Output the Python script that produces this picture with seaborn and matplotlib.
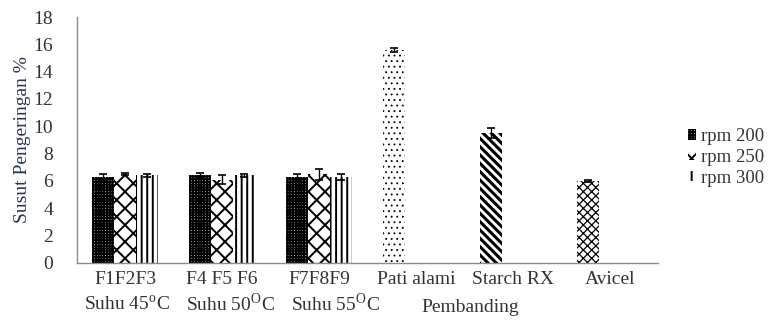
import pandas as pd
import numpy as np
import matplotlib
matplotlib.use("Agg")
import matplotlib.pyplot as plt
from matplotlib.patches import Patch
from matplotlib.transforms import blended_transform_factory
import seaborn as sns

# data
kategori = ["F1F2F3", "F4 F5 F6", "F7F8F9", "Pati alami", "Starch RX", "Avicel"]
grup = ["Suhu 45$^{\\mathrm{o}}$C", "Suhu 50$^{\\mathrm{O}}$C", "Suhu 55$^{\\mathrm{O}}$C", "Pembanding"]
rpm_levels = ["rpm 200", "rpm 250", "rpm 300"]

rpm200 = [6.3, 6.4, 6.3, 15.6, 9.5, 6.0]
rpm250 = [6.5, 6.1, 6.5]
rpm300 = [6.4, 6.4, 6.3]
err200 = [0.2, 0.2, 0.2, 0.15, 0.35, 0.1]
err250 = [0.1, 0.3, 0.4]
err300 = [0.1, 0.1, 0.2]

rows = []
for vals, errs, lvl in [(rpm200, err200, "rpm 200"), (rpm250, err250, "rpm 250"), (rpm300, err300, "rpm 300")]:
    for k, v, e in zip(kategori, vals, errs):
        rows.append({"kategori": k, "rpm": lvl, "susut": v, "err": e})
df = pd.DataFrame(rows)

sns.set_theme(style="white")
plt.rcParams["font.family"] = ["Liberation Serif", "DejaVu Serif"]
plt.rcParams["mathtext.fontset"] = "custom"
plt.rcParams["mathtext.rm"] = "Liberation Serif"
plt.rcParams["hatch.color"] = "black"
plt.rcParams["hatch.linewidth"] = 1.4

hatch_rpm = {"rpm 200": "++++++", "rpm 250": "xx", "rpm 300": "|||"}
hatch_cat = {"Pati alami": "...", "Starch RX": "\\\\\\\\", "Avicel": "xxxx"}
hatch_lw = {"Pati alami": 0.6, "Starch RX": 2.2, "Avicel": 0.9}

fig = plt.figure(figsize=(7.69, 3.21), dpi=100)
ax = fig.add_axes([0.100, 0.181, 0.756, 0.766])

sns.barplot(data=df, x="kategori", y="susut", hue="rpm", order=kategori,
            hue_order=rpm_levels, width=0.68, errorbar=None, legend=False,
            palette=["white"] * 3, ax=ax)

# hatches and error bars per bar
for lvl, cont in zip(rpm_levels, ax.containers):
    sub = df[df["rpm"] == lvl].set_index("kategori").reindex(kategori).dropna()
    for bar, (k, row) in zip(cont, sub.iterrows()):
        bar.set_facecolor("white")
        bar.set_edgecolor("black")
        bar.set_linewidth(0)
        bar.set_hatch(hatch_cat.get(k, hatch_rpm[lvl]))
        if k in hatch_lw and hasattr(bar, "set_hatch_linewidth"):
            bar.set_hatch_linewidth(hatch_lw[k])
        xc = bar.get_x() + bar.get_width() / 2
        ax.errorbar(xc, bar.get_height(), yerr=row["err"], color="black",
                    capsize=3, elinewidth=1, capthick=1.2, fmt="none")

ax.set_ylim(0, 18)
ax.set_xlim(-0.5, 5.5)
ax.set_yticks(np.arange(0, 19, 2))
ax.tick_params(axis="y", length=0, pad=17, labelsize=14, labelcolor="#333333")
ax.tick_params(axis="x", length=0, pad=6, labelsize=14, labelcolor="#333333")
ax.set_xlabel("")
ax.set_ylabel("Susut Pengeringan %", fontsize=14, color="#26365a", labelpad=2)

trans = blended_transform_factory(ax.transData, ax.transAxes)
for xpos, ypos, txt in zip([0.02, 1.08, 2.17, 3.56], [-0.168, -0.168, -0.168, -0.183], grup):
    ax.text(xpos, ypos, txt, transform=trans, ha="center", va="center",
            fontsize=14, color="#333333")

sns.despine(ax=ax)
for s in ["left", "bottom"]:
    ax.spines[s].set_color("#8c8c8c")
    ax.spines[s].set_linewidth(1)

handles = [Patch(facecolor="white", edgecolor="black", linewidth=0,
                 hatch=hatch_rpm[l], label=l) for l in rpm_levels]
fig.legend(handles=handles, loc="center left", bbox_to_anchor=(0.895, 0.51),
           frameon=False, fontsize=13.5, handlelength=0.4, handleheight=0.5,
           handletextpad=0.3, labelspacing=0.2, borderpad=0, borderaxespad=0,
           labelcolor="#333333")

fig.savefig("out.png", dpi=100)
